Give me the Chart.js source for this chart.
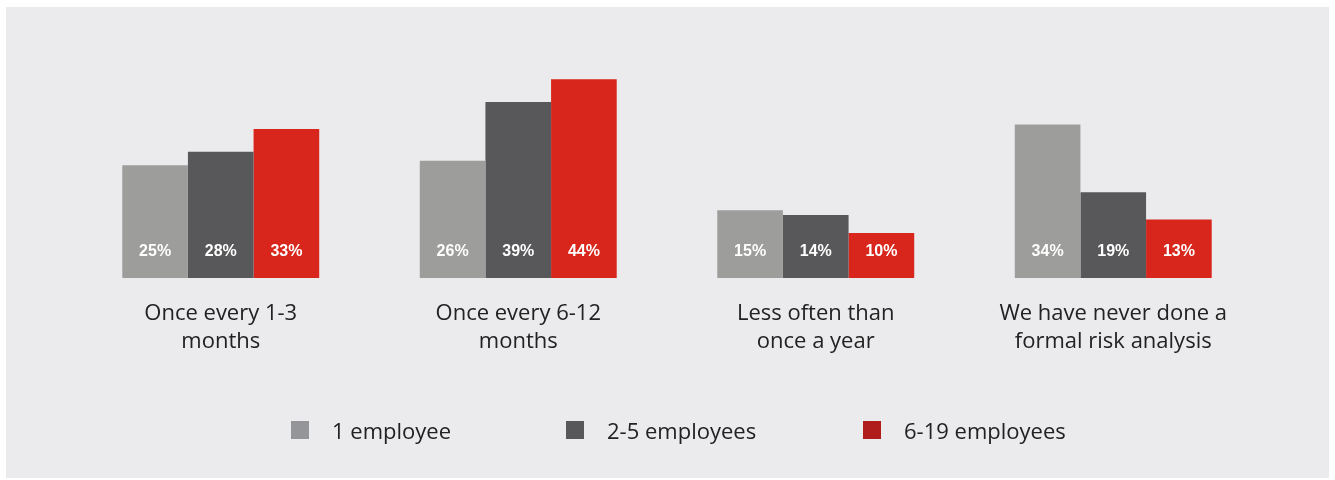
<!DOCTYPE html>
<html>
<head>
<meta charset="utf-8">
<script src="https://cdn.jsdelivr.net/npm/chart.js@4.4.1/dist/chart.umd.min.js"></script>
<style>
    html, body { margin: 0; padding: 0; background: #ffffff; }
    #panel {
        position: absolute; left: 6px; top: 7px;
        width: 1323px; height: 471px;
        background: #ebebed;
    }
    #panel canvas { position: absolute; left: 0; top: 0; }
    .legend {
        position: absolute; top: 405px; left: 0; width: 100%; height: 36px;
        font-family: "Open Sans", "Noto Sans", sans-serif; font-size: 22px; color: #222;
    }
    .legend .item { position: absolute; top: 0; display: flex; align-items: center; height: 36px; }
    .legend .box { width: 18px; height: 18px; margin-right: 23px; }
</style>
</head>
<body>
<div id="panel">
    <canvas id="frekuensiChart" width="1323" height="471"></canvas>
    <div class="legend" id="legendBox"></div>
</div>
<script>
// Data survei: seberapa sering analisis risiko dilakukan
const kategori = [
    ['Once every 1-3', 'months'],
    ['Once every 6-12', 'months'],
    ['Less often than', 'once a year'],
    ['We have never done a', 'formal risk analysis']
];
const seriNama = ['1 employee', '2-5 employees', '6-19 employees'];
const satuKaryawan = [25, 26, 15, 34];
const duaLimaKaryawan = [28, 39, 14, 19];
const enamSembilanBelas = [33, 44, 10, 13];

const warnaBatang = ['#9d9d9b', '#58585a', '#d9261c'];
const warnaLegend = ['#939598', '#58585a', '#b01c1c'];

// Label persentase putih di bagian bawah tiap batang
const labelNilai = {
    id: 'labelNilai',
    afterDatasetsDraw(chart) {
        const ctx = chart.ctx;
        ctx.save();
        ctx.fillStyle = '#ffffff';
        ctx.font = 'bold 16px "Liberation Sans", Arial, sans-serif';
        ctx.textAlign = 'center';
        ctx.textBaseline = 'middle';
        chart.data.datasets.forEach((ds, i) => {
            chart.getDatasetMeta(i).data.forEach((bar, j) => {
                ctx.fillText(ds.data[j] + '%', bar.x, bar.base - 27);
            });
        });
        ctx.restore();
    }
};

new Chart(document.getElementById('frekuensiChart').getContext('2d'), {
    type: 'bar',
    data: {
        labels: kategori,
        datasets: [
            { label: seriNama[0], data: satuKaryawan, backgroundColor: warnaBatang[0] },
            { label: seriNama[1], data: duaLimaKaryawan, backgroundColor: warnaBatang[1] },
            { label: seriNama[2], data: enamSembilanBelas, backgroundColor: warnaBatang[2] }
        ]
    },
    options: {
        responsive: false,
        animation: false,
        layout: { padding: { left: 66, right: 67, top: 43, bottom: 108 } },
        datasets: { bar: { barPercentage: 1, categoryPercentage: 0.662, borderWidth: 0 } },
        scales: {
            x: {
                grid: { display: false },
                border: { display: false },
                ticks: {
                    color: '#222222',
                    padding: 14,
                    maxRotation: 0,
                    autoSkip: false,
                    font: { family: '"Open Sans", "Noto Sans", sans-serif', size: 22, lineHeight: 1.27 }
                }
            },
            y: { display: false, min: 0, max: 50.5 }
        },
        plugins: { legend: { display: false }, tooltip: { enabled: false } }
    },
    plugins: [labelNilai]
});

// Legenda dibuat manual supaya jarak kotak dan teks bisa diatur
const posisiLegend = [285, 560, 857];
const legendBox = document.getElementById('legendBox');
seriNama.forEach((nama, i) => {
    const item = document.createElement('div');
    item.className = 'item';
    item.style.left = posisiLegend[i] + 'px';
    item.innerHTML = '<span class="box" style="background:' + warnaLegend[i] + '"></span>' + nama;
    legendBox.appendChild(item);
});
</script>
</body>
</html>
